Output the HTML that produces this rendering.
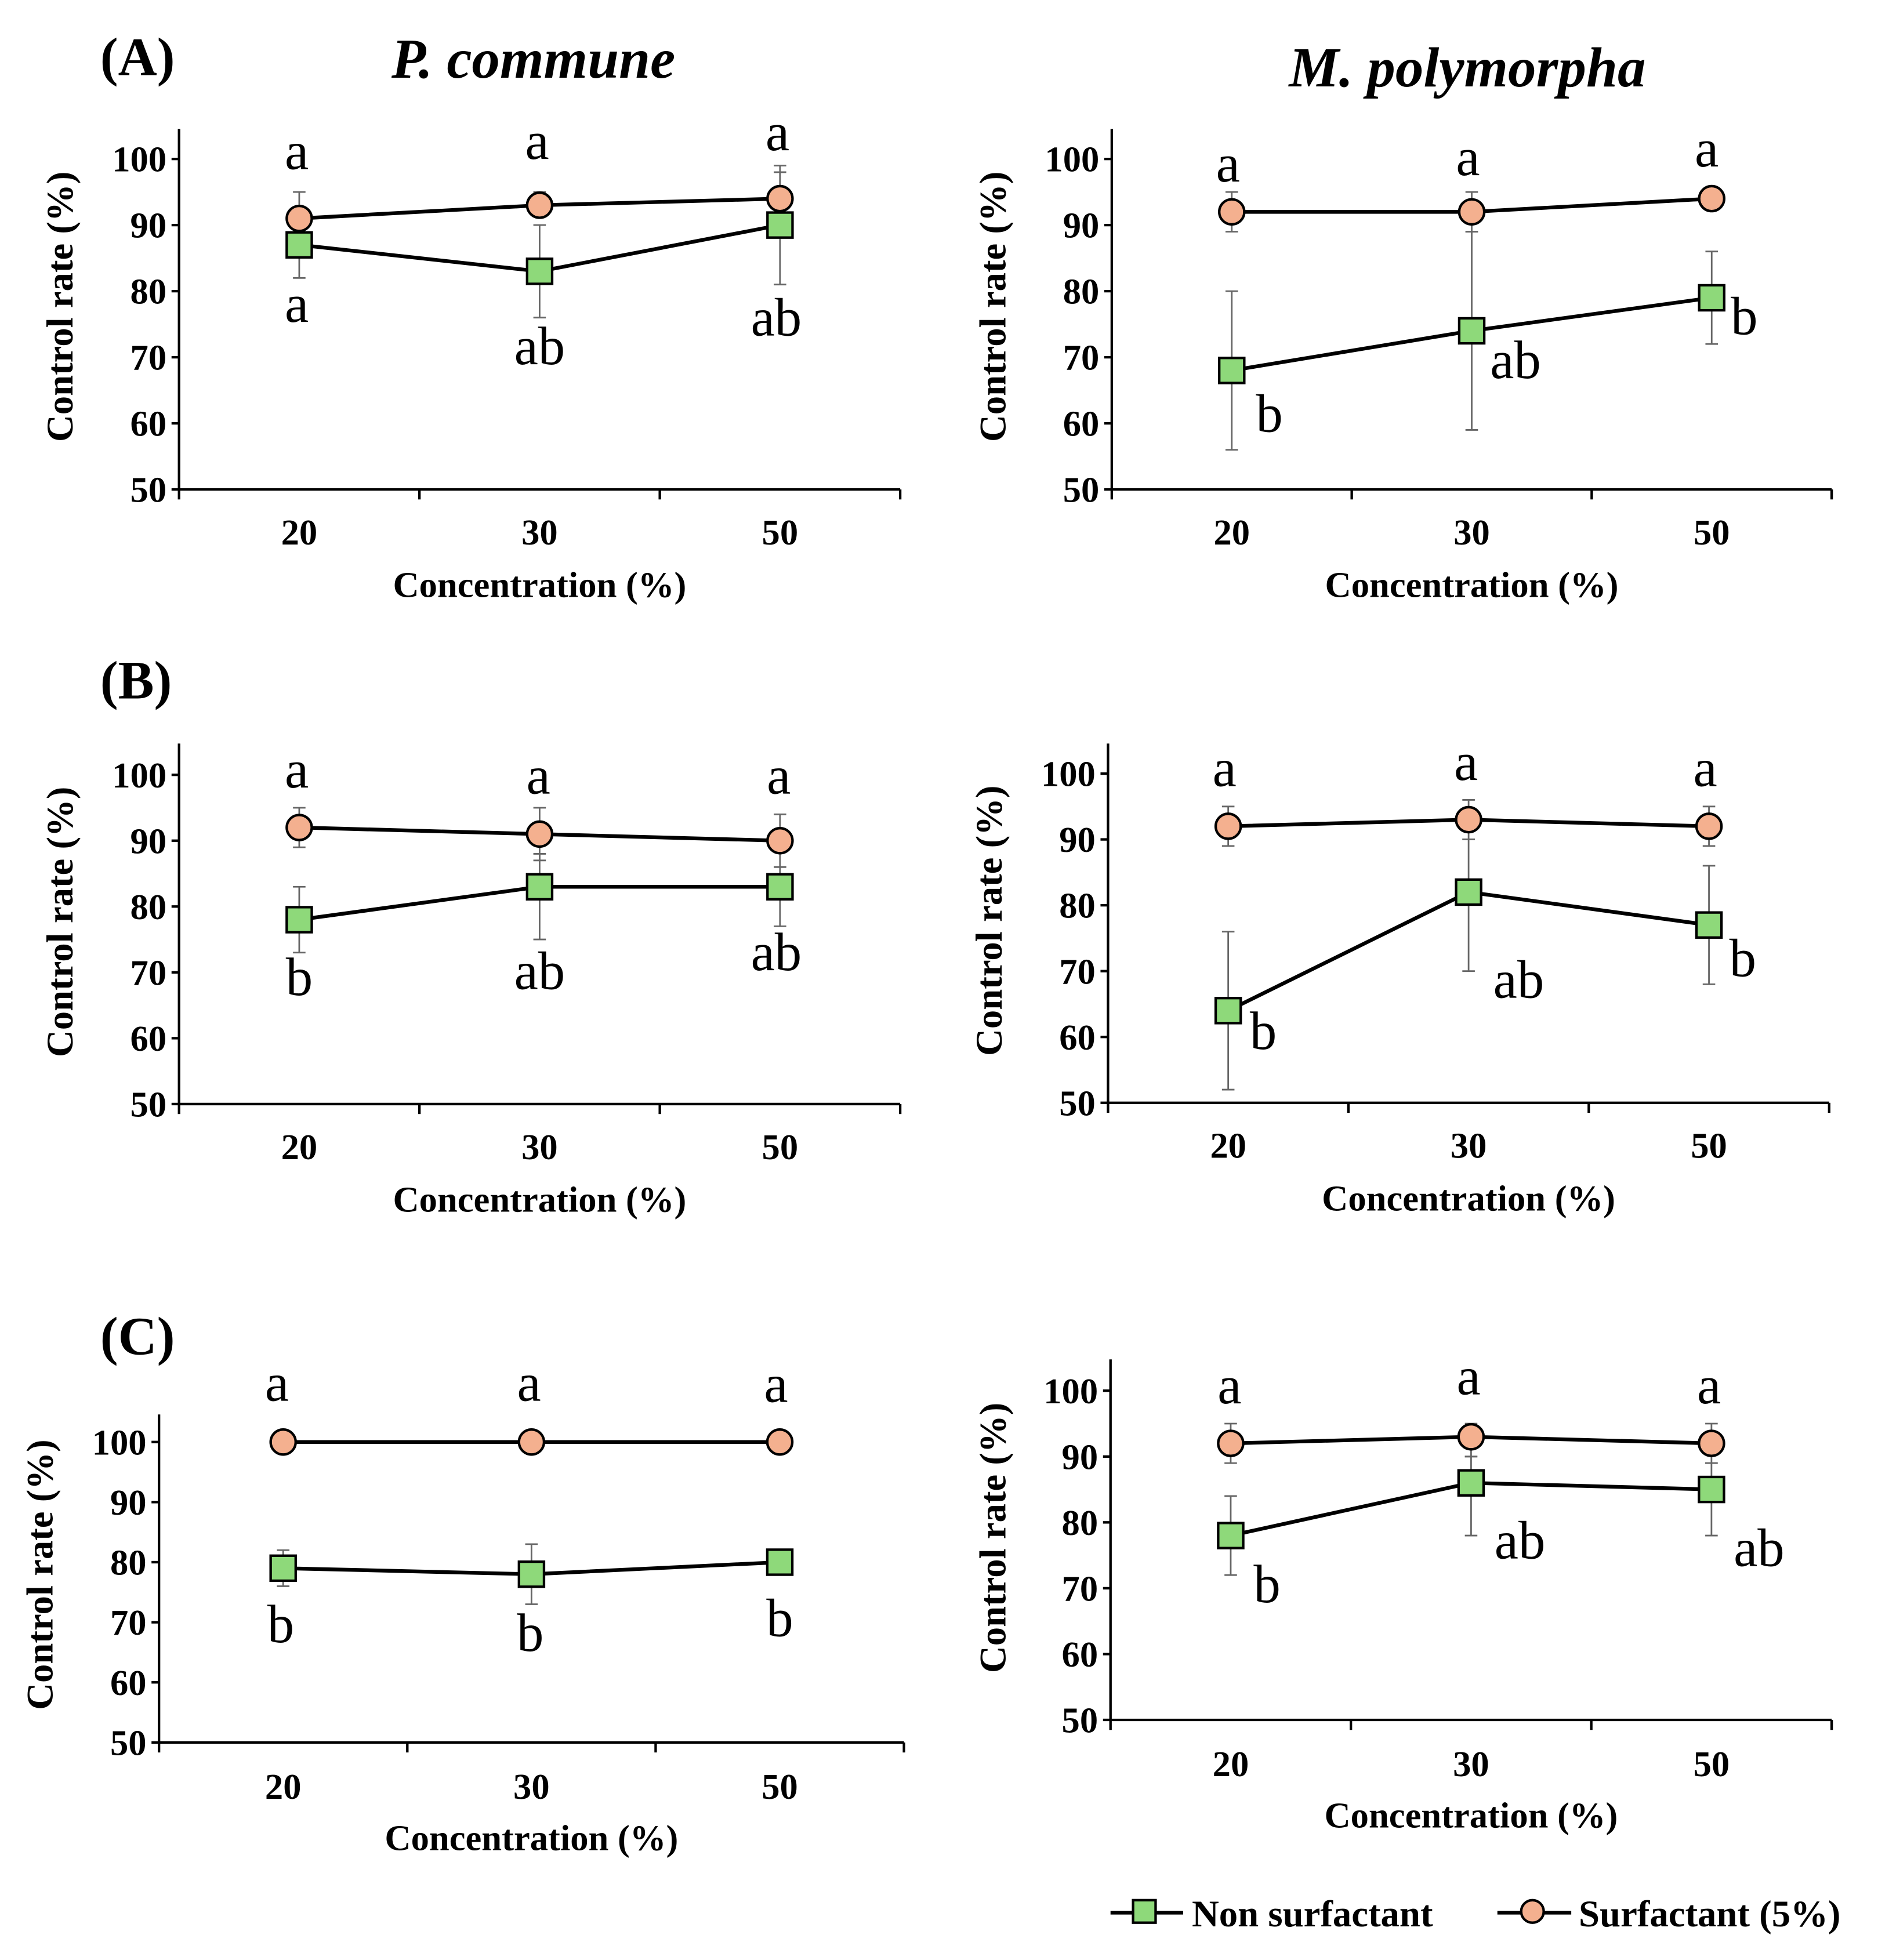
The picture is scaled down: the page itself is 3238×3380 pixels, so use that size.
<!DOCTYPE html>
<html><head><meta charset="utf-8"><style>html,body{margin:0;padding:0;background:#fff}svg{display:block}text{font-family:"Liberation Serif",serif}</style></head>
<body>
<svg id="fig" width="3238" height="3380" viewBox="0 0 1500 1565.8" xmlns="http://www.w3.org/2000/svg">
<text x="80" y="60" font-size="43" font-weight="bold">(A)</text>
<text x="80" y="558" font-size="43" font-weight="bold">(B)</text>
<text x="80" y="1082" font-size="43" font-weight="bold">(C)</text>
<text x="426" y="62" font-size="45" font-weight="bold" font-style="italic" text-anchor="middle">P. commune</text>
<text x="1172" y="69" font-size="45" font-weight="bold" font-style="italic" text-anchor="middle">M. polymorpha</text>
<g id="legend">
<g><line x1="887" y1="1528" x2="945" y2="1528" stroke="#000" stroke-width="3"/><rect x="905" y="1518" width="18" height="18" fill="#8ed97a" stroke="#000" stroke-width="2"/><text x="952" y="1539" font-size="30" font-weight="bold">Non surfactant</text></g>
<g><line x1="1196" y1="1528" x2="1255" y2="1528" stroke="#000" stroke-width="3"/><circle cx="1224" cy="1527" r="9" fill="#f4b08f" stroke="#000" stroke-width="2"/><text x="1261" y="1539" font-size="30" font-weight="bold">Surfactant (5%)</text></g>
</g>
</svg>
<script>
const categories = ["20","30","50"];
const yTicks = [50,60,70,80,90,100];
// A left
const aLeftSurf = [91,93,94], aLeftSurfLo=[91,93,94], aLeftSurfHi=[95,95,99];
const aLeftNon = [87,83,90], aLeftNonLo=[82,76,81], aLeftNonHi=[87,90,98];
const aLeftSurfLetters=["a","a","a"], aLeftNonLetters=["a","ab","ab"];
// A right
const aRightSurf=[92,92,94], aRightSurfLo=[89,89,94], aRightSurfHi=[95,95,94];
const aRightNon=[68,74,79], aRightNonLo=[56,59,72], aRightNonHi=[80,89,86];
const aRightSurfLetters=["a","a","a"], aRightNonLetters=["b","ab","b"];
// B left
const bLeftSurf=[92,91,90], bLeftSurfLo=[89,87,86], bLeftSurfHi=[95,95,94];
const bLeftNon=[78,83,83], bLeftNonLo=[73,75,77], bLeftNonHi=[83,88,86];
const bLeftSurfLetters=["a","a","a"], bLeftNonLetters=["b","ab","ab"];
// B right
const bRightSurf=[92,93,92], bRightSurfLo=[89,90,89], bRightSurfHi=[95,96,95];
const bRightNon=[64,82,77], bRightNonLo=[52,70,68], bRightNonHi=[76,90,86];
const bRightSurfLetters=["a","a","a"], bRightNonLetters=["b","ab","b"];
// C left
const cLeftSurf=[100,100,100], cLeftSurfLo=[100,100,100], cLeftSurfHi=[100,100,100];
const cLeftNon=[79,78,80], cLeftNonLo=[76,73,80], cLeftNonHi=[82,83,80];
const cLeftSurfLetters=["a","a","a"], cLeftNonLetters=["b","b","b"];
// C right
const cRightSurf=[92,93,92], cRightSurfLo=[89,90,89], cRightSurfHi=[95,95,95];
const cRightNon=[78,86,85], cRightNonLo=[72,78,78], cRightNonHi=[84,90,89];
const cRightSurfLetters=["a","a","a"], cRightNonLetters=["b","ab","ab"];

const NS="http://www.w3.org/2000/svg";
const svg=document.getElementById('fig');
function mk(tag,attrs,parent){const e=document.createElementNS(NS,tag);for(const k in attrs)e.setAttribute(k,attrs[k]);(parent||svg).appendChild(e);return e;}

const panels=[
 {n:"a-left",x0:143,x1:719,y100:127,y50:391,top:103,tl:435,xl:477,yl:58,s:aLeftSurf,sl:aLeftSurfLo,sh:aLeftSurfHi,m:aLeftNon,ml:aLeftNonLo,mh:aLeftNonHi,sL:aLeftSurfLetters,mL:aLeftNonLetters,sPos:[[-2,135],[-2,127],[-2,120]],mPos:[[-2,257],[0,291],[-3,268]]},
 {n:"a-right",x0:888,x1:1463,y100:127,y50:391,top:103,tl:435,xl:477,yl:803,s:aRightSurf,sl:aRightSurfLo,sh:aRightSurfHi,m:aRightNon,ml:aRightNonLo,mh:aRightNonHi,sL:aRightSurfLetters,mL:aRightNonLetters,sPos:[[-3,145],[-3,140],[-4,133]],mPos:[[30,345],[35,302],[26,267]]},
 {n:"b-left",x0:143,x1:719,y100:619,y50:882,top:594,tl:926,xl:968,yl:58,s:bLeftSurf,sl:bLeftSurfLo,sh:bLeftSurfHi,m:bLeftNon,ml:bLeftNonLo,mh:bLeftNonHi,sL:bLeftSurfLetters,mL:bLeftNonLetters,sPos:[[-2,629],[-1,634],[-1,634]],mPos:[[0,795],[0,790],[-3,775]]},
 {n:"b-right",x0:885,x1:1461,y100:618,y50:881,top:594,tl:925,xl:967,yl:800,s:bRightSurf,sl:bRightSurfLo,sh:bRightSurfHi,m:bRightNon,ml:bRightNonLo,mh:bRightNonHi,sL:bRightSurfLetters,mL:bRightNonLetters,sPos:[[-3,628],[-2,623],[-3,628]],mPos:[[28,838],[40,797],[27,780]]},
 {n:"c-left",x0:127,x1:722,y100:1152,y50:1392,top:1130,tl:1437,xl:1478,yl:42,s:cLeftSurf,sl:cLeftSurfLo,sh:cLeftSurfHi,m:cLeftNon,ml:cLeftNonLo,mh:cLeftNonHi,sL:cLeftSurfLetters,mL:cLeftNonLetters,sPos:[[-5,1119],[-2,1119],[-3,1120]],mPos:[[-2,1312],[-1,1319],[0,1307]]},
 {n:"c-right",x0:887,x1:1463,y100:1111,y50:1374,top:1086,tl:1419,xl:1460,yl:803,s:cRightSurf,sl:cRightSurfLo,sh:cRightSurfHi,m:cRightNon,ml:cRightNonLo,mh:cRightNonHi,sL:cRightSurfLetters,mL:cRightNonLetters,sPos:[[-1,1121],[-2,1114],[-2,1121]],mPos:[[29,1280],[39,1245],[38,1251]]}
];

panels.forEach(p=>{
 const g=mk('g',{});
 
 
 const band=(p.x1-p.x0)/categories.length;
 const X=i=>p.x0+band*(i+0.5);
 const Y=v=>p.y50+(v-50)*(p.y100-p.y50)/50;
 const ya=mk('line',{x1:p.x0,y1:p.top,x2:p.x0,y2:p.y50,stroke:'#000','stroke-width':2},g);
 
 
 const xa=mk('line',{x1:p.x0,y1:p.y50,x2:p.x1,y2:p.y50,stroke:'#000','stroke-width':2},g);
 
 
 yTicks.forEach(t=>{
  mk('line',{x1:p.x0-6,y1:Y(t),x2:p.x0,y2:Y(t),stroke:'#000','stroke-width':2},g);
  const tx=mk('text',{x:p.x0-10,y:Y(t)+10,'font-size':29,'font-weight':'bold','text-anchor':'end'},g);
  tx.textContent=t;
  
  
 });
 for(let i=0;i<=categories.length;i++) mk('line',{x1:p.x0+band*i,y1:p.y50,x2:p.x0+band*i,y2:p.y50+8,stroke:'#000','stroke-width':2},g);
 categories.forEach((c,i)=>{
  const tx=mk('text',{x:X(i),y:p.tl,'font-size':29,'font-weight':'bold','text-anchor':'middle'},g);
  tx.textContent=c;
  
  
 });
 const xt=mk('text',{x:(p.x0+p.x1)/2,y:p.xl,'font-size':29,'font-weight':'bold','text-anchor':'middle'},g);
 xt.textContent='Concentration (%)';
 
 
 const cy=(p.y50+p.y100)/2-14;
 const yt=mk('text',{x:p.yl,y:cy,'font-size':30,'font-weight':'bold','text-anchor':'middle',transform:`rotate(-90 ${p.yl} ${cy})`},g);
 yt.textContent='Control rate (%)';
 
 
 [[p.s,p.sl,p.sh],[p.m,p.ml,p.mh]].forEach(([v,lo,hi])=>{
  v.forEach((_,i)=>{
   if(lo[i]===hi[i])return;
   const x=X(i);
   const eb=mk('path',{d:`M${x},${Y(lo[i])}V${Y(hi[i])}M${x-5},${Y(lo[i])}H${x+5}M${x-5},${Y(hi[i])}H${x+5}`,stroke:'#666','stroke-width':1.3,fill:'none'},g);
   
   
  });
 });
 const ls=mk('polyline',{points:p.s.map((v,i)=>X(i)+','+Y(v)).join(' '),stroke:'#000','stroke-width':3,fill:'none'},g);
 
 
 const lm=mk('polyline',{points:p.m.map((v,i)=>X(i)+','+Y(v)).join(' '),stroke:'#000','stroke-width':3,fill:'none'},g);
 
 
 p.m.forEach((v,i)=>{
  const r=mk('rect',{x:X(i)-10,y:Y(v)-10,width:20,height:20,fill:'#8ed97a',stroke:'#000','stroke-width':2},g);
  
  
 });
 p.s.forEach((v,i)=>{
  const c=mk('circle',{cx:X(i),cy:Y(v),r:10,fill:'#f4b08f',stroke:'#000','stroke-width':2},g);
  
  
 });
 p.sL.forEach((l,i)=>{
  const t=mk('text',{x:X(i)+p.sPos[i][0],y:p.sPos[i][1],'font-size':43,'text-anchor':'middle'},g);
  t.textContent=l;
  
  
 });
 p.mL.forEach((l,i)=>{
  const t=mk('text',{x:X(i)+p.mPos[i][0],y:p.mPos[i][1],'font-size':43,'text-anchor':'middle'},g);
  t.textContent=l;
  
  
 });
});
</script>
</body></html>
